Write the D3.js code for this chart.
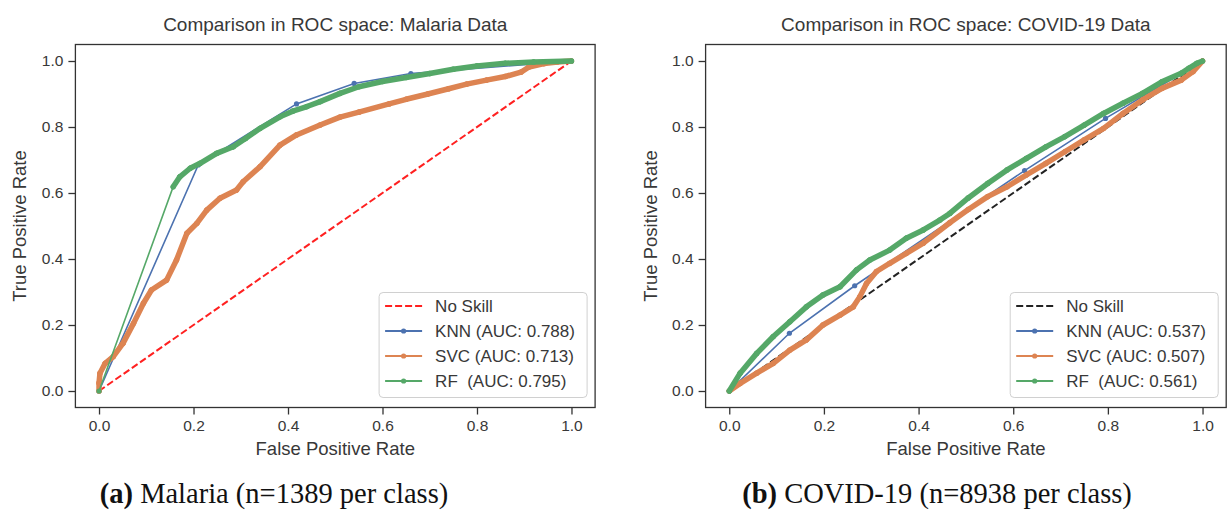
<!DOCTYPE html>
<html>
<head>
<meta charset="utf-8">
<script src="https://cdn.jsdelivr.net/npm/d3@7"></script>
<style>
  body { margin: 0; background: #fff; }
  svg text { font-family: "Liberation Sans", Arial, sans-serif; fill: #383838; }
  .caption { font-family: "Liberation Serif", "Times New Roman", serif; fill: #111; }
</style>
</head>
<body>
<svg id="chart" width="1227" height="512"></svg>
<script>
// Tick values shared by both axes
var TickValues = [0, 0.2, 0.4, 0.6, 0.8, 1.0];
var NoSkill = [[0, 0], [1, 1]];

// Malaria ROC points [FPR, TPR]
var MalariaKnn = [[0, 0], [0.21, 0.685], [0.418, 0.87], [0.54, 0.932], [0.66, 0.962], [1, 1]];
var MalariaSvc = [[0, 0], [0, 0.024], [0.002, 0.054], [0.013, 0.084], [0.03, 0.104], [0.051, 0.145],
    [0.073, 0.205], [0.094, 0.266], [0.111, 0.306], [0.143, 0.336], [0.164, 0.397], [0.186, 0.478],
    [0.207, 0.508], [0.228, 0.548], [0.256, 0.584], [0.291, 0.609], [0.305, 0.634], [0.341, 0.68],
    [0.383, 0.745], [0.418, 0.776], [0.468, 0.806], [0.51, 0.83], [0.55, 0.845], [0.614, 0.87],
    [0.65, 0.884], [0.696, 0.9], [0.74, 0.916], [0.778, 0.93], [0.82, 0.942], [0.86, 0.953],
    [0.893, 0.966], [0.91, 0.982], [0.942, 0.992], [0.97, 0.997], [1, 1]];
var MalariaRf = [[0, 0], [0.157, 0.619], [0.171, 0.649], [0.193, 0.675], [0.214, 0.69], [0.249, 0.72],
    [0.284, 0.74], [0.31, 0.765], [0.341, 0.796], [0.383, 0.831], [0.41, 0.848], [0.44, 0.862],
    [0.468, 0.877], [0.51, 0.902], [0.55, 0.922], [0.6, 0.938], [0.65, 0.95], [0.7, 0.962],
    [0.75, 0.975], [0.8, 0.985], [0.86, 0.993], [0.92, 0.997], [1, 1]];

// COVID-19 ROC points [FPR, TPR]
var CovidKnn = [[0, 0], [0.127, 0.175], [0.265, 0.319], [0.624, 0.668], [0.795, 0.826], [1, 1]];
var CovidSvc = [[0, 0], [0.023, 0.023], [0.058, 0.054], [0.093, 0.084], [0.128, 0.124], [0.163, 0.155],
    [0.198, 0.2], [0.234, 0.23], [0.262, 0.255], [0.276, 0.286], [0.29, 0.326], [0.311, 0.362],
    [0.339, 0.387], [0.374, 0.417], [0.41, 0.448], [0.466, 0.51], [0.505, 0.55], [0.546, 0.589],
    [0.587, 0.619], [0.628, 0.655], [0.669, 0.69], [0.709, 0.725], [0.75, 0.761], [0.791, 0.796],
    [0.832, 0.841], [0.873, 0.882], [0.914, 0.917], [0.955, 0.942], [0.98, 0.968], [1, 1]];
var CovidRf = [[0, 0], [0.023, 0.054], [0.058, 0.114], [0.093, 0.165], [0.128, 0.21], [0.163, 0.255],
    [0.198, 0.291], [0.234, 0.316], [0.269, 0.367], [0.297, 0.397], [0.339, 0.427], [0.374, 0.463],
    [0.41, 0.488], [0.445, 0.518], [0.466, 0.538], [0.505, 0.585], [0.546, 0.629], [0.587, 0.67],
    [0.628, 0.705], [0.669, 0.74], [0.709, 0.771], [0.75, 0.806], [0.791, 0.841], [0.832, 0.872],
    [0.873, 0.902], [0.914, 0.937], [0.955, 0.963], [0.971, 0.978], [0.988, 0.993], [1, 1]];

// Labels
var MalariaLabels = ["No Skill", "KNN (AUC: 0.788)", "SVC (AUC: 0.713)", "RF  (AUC: 0.795)"];
var CovidLabels = ["No Skill", "KNN (AUC: 0.537)", "SVC (AUC: 0.507)", "RF  (AUC: 0.561)"];
var Titles = ["Comparison in ROC space: Malaria Data", "Comparison in ROC space: COVID-19 Data"];
var Captions = [["(a)", " Malaria (n=1389 per class)"], ["(b)", " COVID-19 (n=8938 per class)"]];

var Colors = { Knn: "#4c72b0", Svc: "#dd8452", Rf: "#55a868" };
var SVG = d3.select("#chart");
SVG.append("rect").attr("width", 1227).attr("height", 512).attr("fill", "#fff");

/** DrawPanel: draw one ROC comparison panel. */
function DrawPanel(Options) {
    var Left = Options.Left, Right = Options.Right, Top = 44.5, Bottom = 407.5;
    var X = d3.scaleLinear().domain([-0.05, 1.05]).range([Left, Right]);
    var Y = d3.scaleLinear().domain([-0.05, 1.05]).range([Bottom, Top]);
    var G = SVG.append("g");
    var Line = d3.line().x(D => X(D[0])).y(D => Y(D[1]));
    // No skill diagonal
    G.append("path").datum(NoSkill).attr("d", Line).attr("fill", "none")
        .attr("stroke", Options.NoSkillColor).attr("stroke-width", 2).attr("stroke-dasharray", "7,3");
    // Model curves
    Options.Series.forEach(Series => {
        var Points = Series.Data;
        // Dense runs of markers merge into a thick band
        for (var I = 1; I < Points.length; I++) {
            var A = Points[I - 1], B = Points[I];
            var Distance = Math.hypot(X(B[0]) - X(A[0]), Y(B[1]) - Y(A[1]));
            if (Distance < 45) {
                G.append("line").attr("x1", X(A[0])).attr("y1", Y(A[1])).attr("x2", X(B[0])).attr("y2", Y(B[1]))
                    .attr("stroke", Series.Color).attr("stroke-width", 5.5).attr("stroke-linecap", "round");
            }
        }
        G.append("path").datum(Points).attr("d", Line).attr("fill", "none")
            .attr("stroke", Series.Color).attr("stroke-width", 1.6);
        G.selectAll(null).data(Points).enter().append("circle")
            .attr("cx", D => X(D[0])).attr("cy", D => Y(D[1])).attr("r", 2.6).attr("fill", Series.Color);
    });
    // Frame
    G.append("rect").attr("x", Left).attr("y", Top).attr("width", Right - Left).attr("height", Bottom - Top)
        .attr("fill", "none").attr("stroke", "#333").attr("stroke-width", 1.3);
    // Axes
    var XAxis = G.append("g").attr("transform", `translate(0,${Bottom})`)
        .call(d3.axisBottom(X).tickValues(TickValues).tickSize(7).tickPadding(5).tickFormat(d3.format(".1f")));
    var YAxis = G.append("g").attr("transform", `translate(${Left},0)`)
        .call(d3.axisLeft(Y).tickValues(TickValues).tickSize(7).tickPadding(5).tickFormat(d3.format(".1f")));
    [XAxis, YAxis].forEach(Axis => {
        Axis.select(".domain").remove();
        Axis.selectAll("line").attr("stroke", "#333").attr("stroke-width", 1.3);
        Axis.selectAll("text").attr("font-size", 15.5).attr("font-family", null).attr("fill", "#383838");
    });
    // Title and labels
    G.append("text").attr("x", (Left + Right) / 2).attr("y", 31).attr("text-anchor", "middle")
        .attr("font-size", 19).text(Options.Title);
    G.append("text").attr("x", (Left + Right) / 2).attr("y", 455).attr("text-anchor", "middle")
        .attr("font-size", 18.5).text("False Positive Rate");
    G.append("text").attr("transform", `translate(${Left - 49},${(Top + Bottom) / 2}) rotate(-90)`)
        .attr("text-anchor", "middle").attr("font-size", 18.5).text("True Positive Rate");
    // Legend
    var LegendWidth = 208, LegendHeight = 105;
    var LegendX = Right - 8 - LegendWidth, LegendY = Bottom - 10 - LegendHeight;
    var Legend = G.append("g").attr("transform", `translate(${LegendX},${LegendY})`);
    Legend.append("rect").attr("width", LegendWidth).attr("height", LegendHeight).attr("rx", 4)
        .attr("fill", "#fff").attr("fill-opacity", 0.85).attr("stroke", "#d0d0d0").attr("stroke-width", 1);
    var Entries = [{ Color: Options.NoSkillColor, Dashed: true }].concat(Options.Series);
    Entries.forEach((Entry, Index) => {
        var RowY = 13.5 + Index * 25;
        Legend.append("line").attr("x1", 6).attr("x2", 43).attr("y1", RowY).attr("y2", RowY)
            .attr("stroke", Entry.Color).attr("stroke-width", 2)
            .attr("stroke-dasharray", Entry.Dashed ? "7,3" : null);
        if (!Entry.Dashed) Legend.append("circle").attr("cx", 24.5).attr("cy", RowY).attr("r", 2.6).attr("fill", Entry.Color);
        Legend.append("text").attr("x", 56).attr("y", RowY).attr("dy", "0.36em").attr("font-size", 17)
            .style("white-space", "pre").text(Options.Labels[Index]);
    });
    // Caption
    var Caption = SVG.append("text").attr("class", "caption").attr("x", Options.CaptionX).attr("y", 503)
        .attr("text-anchor", "middle").attr("font-size", 28.5).style("white-space", "pre");
    Caption.append("tspan").attr("font-weight", "bold").text(Options.Caption[0]);
    Caption.append("tspan").text(Options.Caption[1]);
}

DrawPanel({
    Left: 75.4, Right: 595.1, Title: Titles[0], Labels: MalariaLabels, NoSkillColor: "#ff2020",
    Caption: Captions[0], CaptionX: 274,
    Series: [{ Data: MalariaKnn, Color: Colors.Knn }, { Data: MalariaSvc, Color: Colors.Svc }, { Data: MalariaRf, Color: Colors.Rf }]
});
DrawPanel({
    Left: 705.6, Right: 1226.2, Title: Titles[1], Labels: CovidLabels, NoSkillColor: "#222",
    Caption: Captions[1], CaptionX: 937,
    Series: [{ Data: CovidKnn, Color: Colors.Knn }, { Data: CovidSvc, Color: Colors.Svc }, { Data: CovidRf, Color: Colors.Rf }]
});
</script>
</body>
</html>
